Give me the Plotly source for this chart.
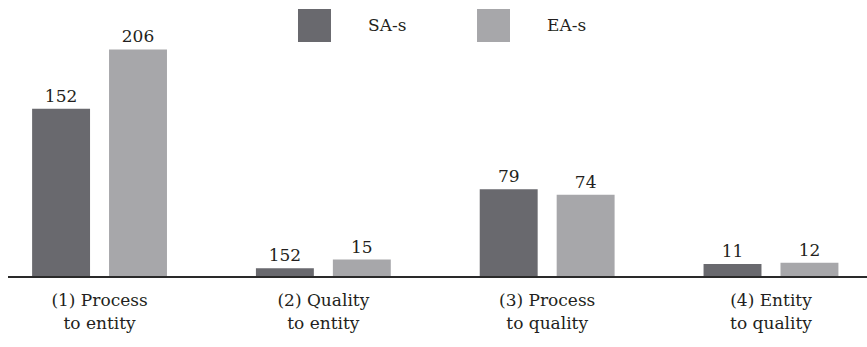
import plotly.graph_objects as go

# Categories and counts per annotation type
categories = ["(1) Process<br>to entity", "(2) Quality<br>to entity",
              "(3) Process<br>to quality", "(4) Entity<br>to quality"]
sa_values = [152, 7, 79, 11]
ea_values = [206, 15, 74, 12]
sa_labels = ["152", "152", "79", "11"]
ea_labels = ["206", "15", "74", "12"]
series_names = ["SA-s", "EA-s"]

SA_COLOR = "#69696e"
EA_COLOR = "#a7a7aa"
TEXT_COLOR = "#231f20"
FONT = "DejaVu Serif"

fig = go.Figure()
fig.add_trace(go.Bar(x=categories, y=sa_values, name=series_names[0],
                     marker=dict(color=SA_COLOR, line=dict(width=0)),
                     text=sa_labels, textposition="outside",
                     textfont=dict(family=FONT, size=17, color=TEXT_COLOR),
                     cliponaxis=False))
fig.add_trace(go.Bar(x=categories, y=ea_values, name=series_names[1],
                     marker=dict(color=EA_COLOR, line=dict(width=0)),
                     text=ea_labels, textposition="outside",
                     textfont=dict(family=FONT, size=17, color=TEXT_COLOR),
                     cliponaxis=False))

# Hand-drawn legend: large square swatches with labels
legend_items = [(series_names[0], SA_COLOR, 0.3376, 0.376, 0.4165),
                (series_names[1], EA_COLOR, 0.5460, 0.5844, 0.6255)]
for name, color, x0, x1, tx in legend_items:
    fig.add_shape(type="rect", xref="paper", yref="paper",
                  x0=x0, x1=x1, y0=0.848, y1=0.967,
                  fillcolor=color, line=dict(width=0))
    fig.add_annotation(xref="paper", yref="paper", x=tx, y=0.91,
                       text=name, showarrow=False, xanchor="left",
                       yanchor="middle",
                       font=dict(family=FONT, size=17, color=TEXT_COLOR))

fig.update_layout(
    width=867, height=347,
    margin=dict(l=8, r=0, t=0, b=71),
    paper_bgcolor="white", plot_bgcolor="white",
    barmode="group", bargap=0.3125, bargroupgap=0.247,
    showlegend=False,
    font=dict(family=FONT, size=17, color=TEXT_COLOR),
    xaxis=dict(range=[-0.409, 3.429], showline=True, linewidth=2,
               linecolor="#2a2a2a", ticks="", showgrid=False,
               tickfont=dict(family=FONT, size=17, color=TEXT_COLOR),
               ticklabelstandoff=8),
    yaxis=dict(range=[0, 251], visible=False, showgrid=False,
               zeroline=False),
)

fig.write_html("out.html")
